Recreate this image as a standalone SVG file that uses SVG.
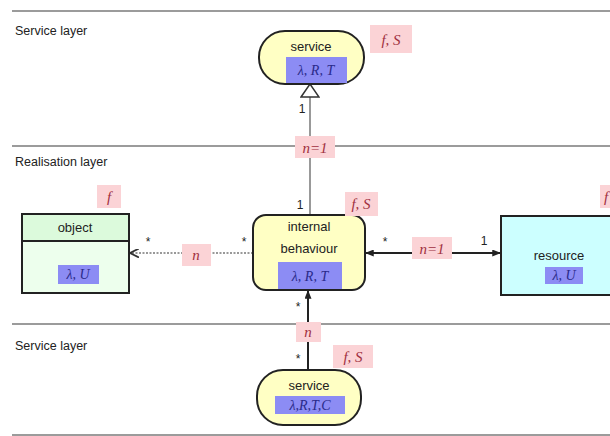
<svg xmlns="http://www.w3.org/2000/svg" width="610" height="436" viewBox="0 0 610 436">
<defs>
<style>
.layer{stroke:#7a7a7a;stroke-width:1.5;fill:none}
.lt{font-family:"Liberation Sans",Arial,sans-serif;font-size:12.5px;fill:#222}
.nt{font-family:"Liberation Sans",Arial,sans-serif;font-size:13px;fill:#222;text-anchor:middle}
.mt{font-family:"Liberation Serif","Times New Roman",serif;font-style:italic;font-size:14px;fill:#2a2a8a;text-anchor:middle}
.pt{font-family:"Liberation Serif","Times New Roman",serif;font-style:italic;font-size:15px;fill:#a03040;text-anchor:middle}
.pink{fill:#fbd3d6}
.blue{fill:#8c8cf4}
.small{font-family:"Liberation Sans",Arial,sans-serif;font-size:12px;fill:#222;text-anchor:middle}
</style>
<marker id="hollow" viewBox="0 0 14 20" refX="14" refY="10" markerWidth="14" markerHeight="20" markerUnits="userSpaceOnUse" orient="auto">
<path d="M1,1 L14,10 L1,19 Z" fill="#fff" stroke="#333" stroke-width="1.5"/>
</marker>
<marker id="open" viewBox="0 0 10 10" refX="10" refY="5" markerWidth="9" markerHeight="9" markerUnits="userSpaceOnUse" orient="auto">
<path d="M0,0 L10,5 L0,10" fill="none" stroke="#333" stroke-width="2"/>
</marker>
<marker id="filled" viewBox="0 0 10 8" refX="10" refY="4" markerWidth="9" markerHeight="7" markerUnits="userSpaceOnUse" orient="auto">
<path d="M0,0 L10,4 L0,8 Z" fill="#222"/>
</marker>
</defs>
<rect width="610" height="436" fill="#fff"/>
<g id="layers">
<line class="layer" x1="12" y1="11" x2="610" y2="11"/>
<line class="layer" x1="12" y1="146" x2="610" y2="146"/>
<line class="layer" x1="12" y1="324" x2="610" y2="324"/>
<line class="layer" x1="12" y1="435" x2="610" y2="435" stroke="#bbb"/>
<text class="lt" x="15" y="35">Service layer</text>
<text class="lt" x="15" y="166">Realisation layer</text>
<text class="lt" x="15" y="350">Service layer</text>
</g>
<g id="connectors">
<line x1="310" y1="214" x2="310" y2="84" stroke="#999" stroke-width="2" marker-end="url(#hollow)"/>
<text class="small" x="302" y="113">1</text>
<text class="small" x="300" y="209">1</text>
<rect class="pink" x="295" y="136" width="40" height="22"/>
<text class="pt" x="315" y="153">n=1</text>
<line x1="253" y1="253" x2="130" y2="253" stroke="#999" stroke-width="2" stroke-dasharray="2,1.5" marker-end="url(#open)"/>
<text class="small" x="148" y="246">*</text>
<text class="small" x="244" y="246">*</text>
<rect class="pink" x="182" y="244" width="29" height="22"/>
<text class="pt" x="196" y="260">n</text>
<line x1="412" y1="253" x2="365" y2="253" stroke="#222" stroke-width="2" marker-end="url(#filled)"/>
<line x1="452" y1="253" x2="501" y2="253" stroke="#222" stroke-width="2" marker-end="url(#filled)"/>
<text class="small" x="385" y="246">*</text>
<text class="small" x="484" y="245">1</text>
<rect class="pink" x="412" y="237" width="40" height="22"/>
<text class="pt" x="432" y="254">n=1</text>
<line x1="308" y1="370" x2="308" y2="290" stroke="#222" stroke-width="2" marker-end="url(#filled)"/>
<text class="small" x="298" y="311">*</text>
<text class="small" x="298" y="363">*</text>
<rect class="pink" x="296" y="322" width="25" height="20"/>
<text class="pt" x="308" y="337">n</text>
</g>
<g id="service-top">
<rect x="259" y="31" width="105" height="53" rx="26" fill="#ffffc4" stroke="#222" stroke-width="2"/>
<text class="nt" x="311" y="51">service</text>
<rect class="blue" x="286" y="57" width="61" height="26"/>
<text class="mt" x="316" y="75">λ, R, T</text>
<rect class="pink" x="370" y="25" width="42" height="28"/>
<text class="pt" x="391" y="45">f, S</text>
</g>
<g id="internal-behaviour">
<rect x="253" y="215" width="112" height="75" rx="13" fill="#ffffc4" stroke="#222" stroke-width="2"/>
<text class="nt" x="309" y="231">internal</text>
<text class="nt" x="309" y="253">behaviour</text>
<rect class="blue" x="278" y="262" width="64" height="27"/>
<text class="mt" x="310" y="281">λ, R, T</text>
<rect class="pink" x="345" y="192" width="33" height="24"/>
<text class="pt" x="361" y="209">f, S</text>
</g>
<g id="object">
<rect x="22" y="214" width="107" height="79" fill="#edffed" stroke="#222" stroke-width="2"/>
<rect x="22" y="214" width="107" height="27" fill="#dcfadc" stroke="#222" stroke-width="2"/>
<text class="nt" x="75" y="232">object</text>
<rect class="blue" x="58" y="265" width="41" height="19"/>
<text class="mt" x="78" y="279">λ, U</text>
<rect class="pink" x="97" y="185" width="24" height="23"/>
<text class="pt" x="109" y="202">f</text>
</g>
<g id="resource">
<rect x="501" y="216" width="115" height="79" fill="#ccffff" stroke="#222" stroke-width="2"/>
<text class="nt" x="559" y="260">resource</text>
<rect class="blue" x="545" y="267" width="38" height="17"/>
<text class="mt" x="564" y="280">λ, U</text>
<rect class="pink" x="600" y="185" width="24" height="23"/>
<text class="pt" x="606" y="202">f</text>
</g>
<g id="service-bottom">
<rect x="257" y="370" width="104" height="55" rx="26" fill="#ffffc4" stroke="#222" stroke-width="2"/>
<text class="nt" x="309" y="390">service</text>
<rect class="blue" x="275" y="396" width="70" height="18"/>
<text class="mt" x="310" y="410">λ,R,T,C</text>
<rect class="pink" x="333" y="345" width="40" height="23"/>
<text class="pt" x="353" y="362">f, S</text>
</g>
</svg>
